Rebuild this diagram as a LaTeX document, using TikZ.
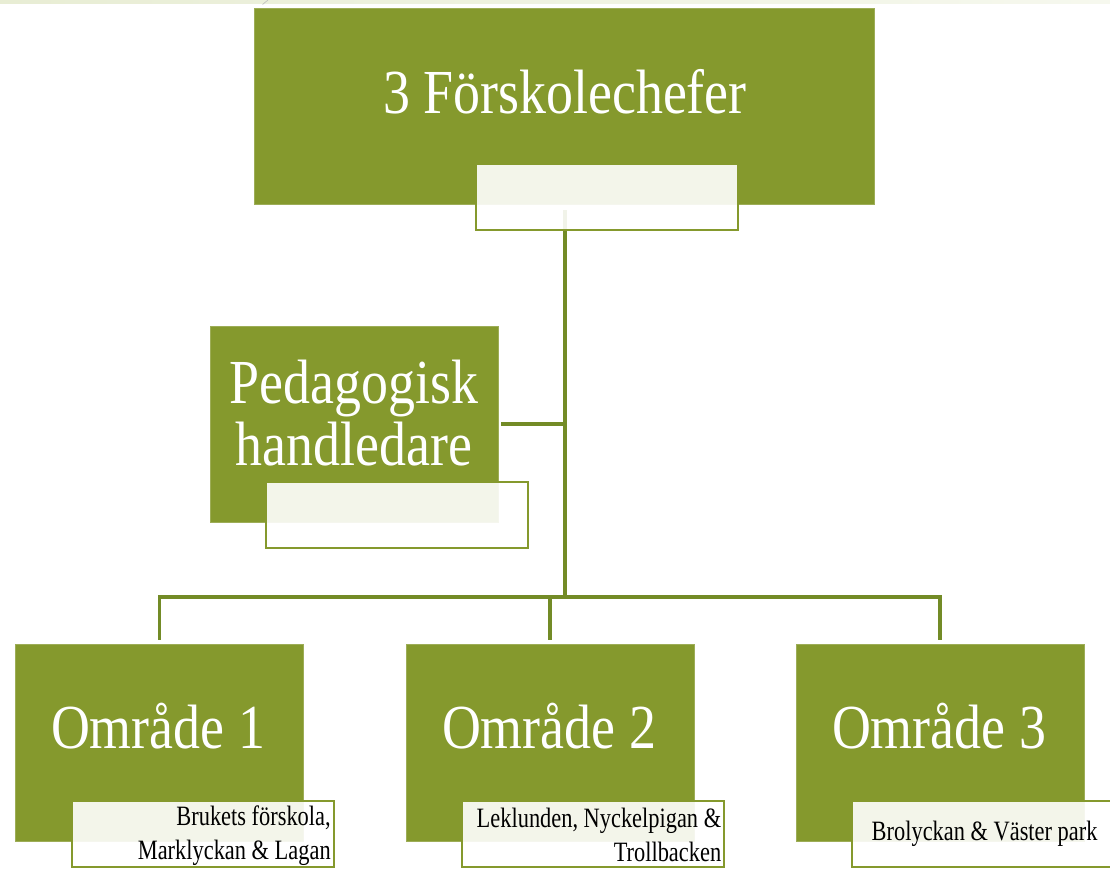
\documentclass[tikz,border=0pt]{standalone}
\usepackage{fontspec}
\setmainfont{Liberation Serif}[FakeStretch=0.86]
\newfontfamily\narrowserif{Liberation Serif}[FakeStretch=0.8]
\usetikzlibrary{positioning}
\definecolor{orggreen}{RGB}{133,153,45}
\definecolor{linkgreen}{RGB}{115,139,38}
\pgfdeclarelayer{bg}
\pgfsetlayers{bg,main}

\begin{document}
\begin{tikzpicture}[x=0.75pt,y=-0.75pt,
    orgbox/.style={fill=orggreen, draw=orggreen!80!white, line width=0.6pt, inner sep=0pt},
    labelbox/.style={fill=white, fill opacity=0.9, draw=orggreen, line width=1.5pt,
      minimum width=196.5pt, minimum height=49.5pt, inner sep=0pt},
    bigtext/.style={text=white, font=\fontsize{47}{46.5}\selectfont, inner sep=0pt, align=center},
    smalltext/.style={text=black, font=\narrowserif\fontsize{21}{25.5}\selectfont, inner sep=0pt, align=right, anchor=east},
    link/.style={draw=linkgreen, line width=2.6pt}]
  \useasboundingbox (0,0) rectangle (1110,868);
  \clip (0,0) rectangle (1110,868);
  \shade[left color={rgb,255:red,232;green,237;blue,212}, right color={rgb,255:red,246;green,248;blue,238}]
    (0,0) rectangle (1110,3.5);
  \draw[gray!50, line width=0.5pt] (262.5,4.5) -- (268,0);

  % boxes
  \node[orgbox, minimum width=465pt, minimum height=147pt] (chef) at (564,106) {};
  \node[orgbox, minimum width=216pt, minimum height=147pt] (ped) at (354,424) {};
  \node[orgbox, minimum width=216pt, minimum height=148pt] (omr1) at (159.5,743) {};
  \node[orgbox, minimum width=216pt, minimum height=148pt] (omr2) at (550,743) {};
  \node[orgbox, minimum width=216pt, minimum height=148pt] (omr3) at (940,743) {};

  \node[labelbox] (chef-l) at ([xshift=32.6pt,yshift=5.6pt]chef.south) {};
  \node[labelbox] (ped-l) at ([xshift=32.6pt,yshift=5.6pt]ped.south) {};
  \node[labelbox] (omr1-l) at ([xshift=32.6pt,yshift=6pt]omr1.south) {};
  \node[labelbox] (omr2-l) at ([xshift=32.6pt,yshift=6pt]omr2.south) {};
  \node[labelbox] (omr3-l) at ([xshift=32.6pt,yshift=6pt]omr3.south) {};

  % texts
  \node[bigtext, anchor=base] (chef-t) at (565,113) {3 Förskolechefer};
  \node[bigtext] (ped-t) at (354,413) {Pedagogisk\\handledare};
  \node[bigtext, anchor=base] (omr1-t) at (158,748) {Område 1};
  \node[bigtext, anchor=base] (omr2-t) at (549,748) {Område 2};
  \node[bigtext, anchor=base] (omr3-t) at (939,748) {Område 3};

  \node[smalltext] (omr1-s) at ([xshift=-3pt,yshift=-1pt]omr1-l.east) {Brukets förskola,\\Marklyckan \& Lagan};
  \node[smalltext] (omr2-s) at ([xshift=-3pt,yshift=-1pt]omr2-l.east) {Leklunden, Nyckelpigan \&\\Trollbacken};
  \node[smalltext, anchor=west] (omr3-s) at ([xshift=15pt]omr3-l.west) {Brolyckan \& Väster park};

  % connectors
  \coordinate (bar) at (565,597);
  \begin{pgfonlayer}{bg}
    \draw[link, shorten <=4.5pt] (chef.south -| bar) -- (bar);
    \draw[link, shorten <=2.25pt] (ped.east) -- (ped.east -| bar);
    \draw[link, shorten <=3pt, shorten >=3pt] (omr1.north) |- (bar) -| (omr3.north);
    \draw[link, shorten <=3pt] (omr2.north) -- (omr2.north |- bar);
  \end{pgfonlayer}
\end{tikzpicture}
\end{document}
